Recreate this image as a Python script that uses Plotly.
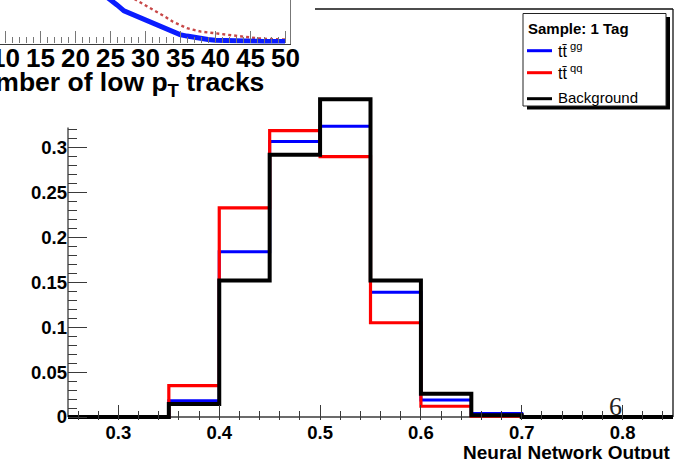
import plotly.graph_objects as go

W, H = 688, 459

# ---- main histograms: neural network output, 1-tag sample ----
bin_edges = [0.25, 0.30, 0.35, 0.40, 0.45, 0.50, 0.55, 0.60, 0.65, 0.70, 0.75, 0.80, 0.85]
tt_gg = [0.0, 0.0, 0.018, 0.184, 0.307, 0.324, 0.139, 0.019, 0.004, 0.0, 0.0, 0.0]
tt_qq = [0.0, 0.0, 0.035, 0.233, 0.319, 0.290, 0.105, 0.012, 0.001, 0.0, 0.0, 0.0]
background = [0.0, 0.0, 0.0145, 0.152, 0.292, 0.354, 0.152, 0.026, 0.002, 0.0, 0.0, 0.0]

x_tickvals = [0.3, 0.4, 0.5, 0.6, 0.7, 0.8]
x_ticktext = ["0.3", "0.4", "0.5", "0.6", "0.7", "0.8"]
y_tickvals = [0.0, 0.05, 0.10, 0.15, 0.20, 0.25, 0.30]
y_ticktext = ["0", "0.05", "0.1", "0.15", "0.2", "0.25", "0.3"]

# ---- inset: number of low-pT tracks ----
trk_x_gg = list(range(24, 51))
trk_gg = [0.048, 0.043, 0.037, 0.031, 0.028, 0.0245, 0.0215, 0.0185, 0.015, 0.012,
          0.009, 0.007, 0.0055, 0.004, 0.0027, 0.002, 0.0014, 0.001, 0.0007, 0.0005,
          0.0003, 0.0002, 0.0002, 0.0001, 0.0001, 0.0001, 0.0001]
trk_x_qq = list(range(27, 51))
trk_qq = [0.049, 0.045, 0.0405, 0.037, 0.033, 0.029, 0.0245, 0.020, 0.0165, 0.0135,
          0.0117, 0.010, 0.0092, 0.0083, 0.0073, 0.0065, 0.0056, 0.0047, 0.004, 0.0033,
          0.0028, 0.0024, 0.0021, 0.002]
trk_tickvals = [10, 15, 20, 25, 30, 35, 40, 45, 50]
trk_ticktext = ["10", "15", "20", "25", "30", "35", "40", "45", "50"]

FONT = "Liberation Sans, Arial, Helvetica, sans-serif"
AX = "#3a3a3a"


def px(xp):
    return xp / W


def py(yp):
    return (H - yp) / H


def step(vals):
    # left-edge values plus the closing right edge for an 'hv' step line
    return bin_edges, list(vals) + [vals[-1]]


fig = go.Figure()

for name, vals, color, width in [
    ("tt gg", tt_gg, "#0000ff", 3),
    ("tt qq", tt_qq, "#ff0000", 3.2),
    ("Background", background, "#000000", 4),
]:
    xs, ys = step(vals)
    fig.add_trace(go.Scatter(x=xs, y=ys, mode="lines", line=dict(color=color, width=width, shape="hv"),
                             name=name, showlegend=False, xaxis="x", yaxis="y", hoverinfo="skip"))

# inset curves
fig.add_trace(go.Scatter(x=trk_x_qq, y=trk_qq, mode="lines",
                         line=dict(color="#c84848", width=2.4, dash="dot"),
                         showlegend=False, xaxis="x2", yaxis="y2", hoverinfo="skip"))
fig.add_trace(go.Scatter(x=trk_x_gg, y=trk_gg, mode="lines",
                         line=dict(color="#0a1cff", width=5),
                         showlegend=False, xaxis="x2", yaxis="y2", hoverinfo="skip"))

y_lo = -0.003
y_top = 0.4545
zero_px = 417.0
scale = 897.7
dom_bottom_px = zero_px - y_lo * scale

minor_y = [round(0.01 * k, 2) for k in range(1, 33) if k % 5 != 0]

fig.update_layout(
    width=W, height=H,
    margin=dict(l=0, r=0, t=0, b=0, pad=0),
    paper_bgcolor="white", plot_bgcolor="rgba(0,0,0,0)",
    font=dict(family=FONT, color="black"),
    showlegend=False,
    xaxis=dict(domain=[px(68), px(673)], range=[0.25, 0.85], anchor="y", automargin=False,
               showline=False, showgrid=False, zeroline=False,
               tickmode="array", tickvals=x_tickvals, ticktext=x_ticktext,
               ticks="inside", ticklen=15, tickwidth=1.2, tickcolor=AX,
               tickfont=dict(size=18.5, family=FONT, weight="bold"),
               ticklabelstandoff=0,
               minor=dict(tick0=0.3, dtick=0.02, ticks="inside", ticklen=9, tickwidth=1, tickcolor=AX)),
    yaxis=dict(domain=[py(dom_bottom_px), py(9)], range=[y_lo, y_top], anchor="x", automargin=False,
               showline=False, showgrid=False, zeroline=False,
               tickmode="array", tickvals=y_tickvals, ticktext=y_ticktext,
               ticks="inside", ticklen=19, tickwidth=1.2, tickcolor=AX,
               tickfont=dict(size=18.5, family=FONT, weight="bold"),
               ticklabelstandoff=0,
               minor=dict(tickmode="array", tickvals=minor_y, ticks="inside", ticklen=9,
                          tickwidth=1, tickcolor=AX)),
    xaxis2=dict(domain=[0, px(290)], range=[9.286, 50.714], anchor="y2", automargin=False,
                showline=True, linecolor=AX, linewidth=1.3, showgrid=False, zeroline=False,
                tickmode="array", tickvals=trk_tickvals, showticklabels=False,
                ticks="inside", ticklen=12, tickwidth=1.2, tickcolor="#777",
                minor=dict(tick0=10, dtick=1, ticks="inside", ticklen=6, tickwidth=1, tickcolor="#777")),
    yaxis2=dict(domain=[py(43.5), 1], range=[-0.002, 0.042], anchor="x2", side="right", automargin=False,
                showline=True, linecolor="#777", linewidth=1.3, showgrid=False, zeroline=False,
                showticklabels=False, ticks=""),
)

shapes = [
    # axis line along zero and the visible parts of the frame
    dict(type="line", xref="paper", yref="y", x0=px(68), x1=px(673), y0=0, y1=0,
         line=dict(color=AX, width=1.3), layer="below"),
    dict(type="line", xref="paper", yref="y", x0=px(68), x1=px(68), y0=0, y1=0.3225,
         line=dict(color=AX, width=1.3), layer="below"),
    dict(type="line", xref="paper", yref="paper", x0=px(315), x1=px(673), y0=py(9), y1=py(9),
         line=dict(color="#111", width=1.3), layer="below"),
    dict(type="line", xref="paper", yref="paper", x0=px(673), x1=px(673), y0=py(9), y1=py(417),
         line=dict(color="#111", width=1.3), layer="below"),
    # legend box with drop shadow
    dict(type="rect", xref="paper", yref="paper", x0=px(527), x1=px(670), y0=py(17), y1=py(109.5),
         line=dict(width=0), fillcolor="black", layer="above"),
    dict(type="rect", xref="paper", yref="paper", x0=px(523), x1=px(666), y0=py(13.5), y1=py(106),
         line=dict(color="#222", width=1), fillcolor="white", layer="above"),
]

legend_rows = [
    ("tt\u0304<sup> gg</sup>", "#0000ff", 50.7),
    ("tt\u0304<sup> qq</sup>", "#ff0000", 72.7),
    ("Background", "#000000", 98.7),
]
annotations = [
    dict(text="<b>Sample: 1 Tag</b>", xref="paper", yref="paper", x=px(526), y=py(28.5),
         xanchor="left", yanchor="middle", showarrow=False, font=dict(size=15, family=FONT)),
]
for label, color, ypos in legend_rows:
    shapes.append(dict(type="line", xref="paper", yref="paper", x0=px(527), x1=px(552),
                       y0=py(ypos), y1=py(ypos), line=dict(color=color, width=3), layer="above"))
    annotations.append(dict(text=label, xref="paper", yref="paper", x=px(556), y=py(ypos - 1),
                            xanchor="left", yanchor="middle", showarrow=False,
                            font=dict(size=15 if label == "Background" else 16, family=FONT)))

# inset tick labels placed on the inset's x scale
for v, t in zip(trk_tickvals, trk_ticktext):
    annotations.append(dict(text="<b>%s</b>" % t, xref="x2", yref="paper", x=v, y=py(58),
                            xanchor="center", yanchor="middle", showarrow=False,
                            font=dict(size=26, family=FONT)))

annotations += [
    dict(text="<b>Neural Network Output</b>", xref="paper", yref="paper", x=px(673), y=py(440),
         xanchor="right", yanchor="top", showarrow=False, font=dict(size=19, family=FONT)),
    dict(text="<b>Number of low p<sub>T</sub> tracks</b>", xref="paper", yref="paper",
         x=px(266), y=py(84), xanchor="right", yanchor="middle", showarrow=False,
         font=dict(size=26.5, family=FONT)),
    dict(text="6", xref="paper", yref="paper", x=px(615), y=py(406), xanchor="center",
         yanchor="middle", showarrow=False,
         font=dict(size=26, family="Liberation Serif, DejaVu Serif, serif", color="#222")),
]

fig.update_layout(shapes=shapes, annotations=annotations)
fig.write_html("out.html")
